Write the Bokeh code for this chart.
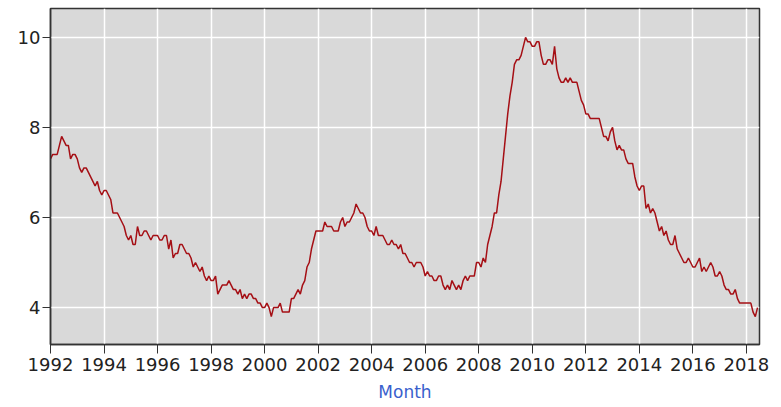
from bokeh.plotting import figure
from bokeh.models import Range1d, FixedTicker
from bokeh.embed import file_html
from bokeh.resources import INLINE

start_year = 1992
rate = [
    # 1992
    7.3, 7.4, 7.4, 7.4, 7.6, 7.8, 7.7, 7.6, 7.6, 7.3, 7.4, 7.4,
    # 1993
    7.3, 7.1, 7.0, 7.1, 7.1, 7.0, 6.9, 6.8, 6.7, 6.8, 6.6, 6.5,
    # 1994
    6.6, 6.6, 6.5, 6.4, 6.1, 6.1, 6.1, 6.0, 5.9, 5.8, 5.6, 5.5,
    # 1995
    5.6, 5.4, 5.4, 5.8, 5.6, 5.6, 5.7, 5.7, 5.6, 5.5, 5.6, 5.6,
    # 1996
    5.6, 5.5, 5.5, 5.6, 5.6, 5.3, 5.5, 5.1, 5.2, 5.2, 5.4, 5.4,
    # 1997
    5.3, 5.2, 5.2, 5.1, 4.9, 5.0, 4.9, 4.8, 4.9, 4.7, 4.6, 4.7,
    # 1998
    4.6, 4.6, 4.7, 4.3, 4.4, 4.5, 4.5, 4.5, 4.6, 4.5, 4.4, 4.4,
    # 1999
    4.3, 4.4, 4.2, 4.3, 4.2, 4.3, 4.3, 4.2, 4.2, 4.1, 4.1, 4.0,
    # 2000
    4.0, 4.1, 4.0, 3.8, 4.0, 4.0, 4.0, 4.1, 3.9, 3.9, 3.9, 3.9,
    # 2001
    4.2, 4.2, 4.3, 4.4, 4.3, 4.5, 4.6, 4.9, 5.0, 5.3, 5.5, 5.7,
    # 2002
    5.7, 5.7, 5.7, 5.9, 5.8, 5.8, 5.8, 5.7, 5.7, 5.7, 5.9, 6.0,
    # 2003
    5.8, 5.9, 5.9, 6.0, 6.1, 6.3, 6.2, 6.1, 6.1, 6.0, 5.8, 5.7,
    # 2004
    5.7, 5.6, 5.8, 5.6, 5.6, 5.6, 5.5, 5.4, 5.4, 5.5, 5.4, 5.4,
    # 2005
    5.3, 5.4, 5.2, 5.2, 5.1, 5.0, 5.0, 4.9, 5.0, 5.0, 5.0, 4.9,
    # 2006
    4.7, 4.8, 4.7, 4.7, 4.6, 4.6, 4.7, 4.7, 4.5, 4.4, 4.5, 4.4,
    # 2007
    4.6, 4.5, 4.4, 4.5, 4.4, 4.6, 4.7, 4.6, 4.7, 4.7, 4.7, 5.0,
    # 2008
    5.0, 4.9, 5.1, 5.0, 5.4, 5.6, 5.8, 6.1, 6.1, 6.5, 6.8, 7.3,
    # 2009
    7.8, 8.3, 8.7, 9.0, 9.4, 9.5, 9.5, 9.6, 9.8, 10.0, 9.9, 9.9,
    # 2010
    9.8, 9.8, 9.9, 9.9, 9.6, 9.4, 9.4, 9.5, 9.5, 9.4, 9.8, 9.3,
    # 2011
    9.1, 9.0, 9.0, 9.1, 9.0, 9.1, 9.0, 9.0, 9.0, 8.8, 8.6, 8.5,
    # 2012
    8.3, 8.3, 8.2, 8.2, 8.2, 8.2, 8.2, 8.0, 7.8, 7.8, 7.7, 7.9,
    # 2013
    8.0, 7.7, 7.5, 7.6, 7.5, 7.5, 7.3, 7.2, 7.2, 7.2, 6.9, 6.7,
    # 2014
    6.6, 6.7, 6.7, 6.2, 6.3, 6.1, 6.2, 6.1, 5.9, 5.7, 5.8, 5.6,
    # 2015
    5.7, 5.5, 5.4, 5.4, 5.6, 5.3, 5.2, 5.1, 5.0, 5.0, 5.1, 5.0,
    # 2016
    4.9, 4.9, 5.0, 5.1, 4.8, 4.9, 4.8, 4.9, 5.0, 4.9, 4.7, 4.7,
    # 2017
    4.8, 4.7, 4.5, 4.4, 4.4, 4.3, 4.3, 4.4, 4.2, 4.1, 4.1, 4.1,
    # 2018
    4.1, 4.1, 4.1, 3.9, 3.8, 4.0,
]
y_ticks = [4, 6, 8, 10]
x_ticks = list(range(1992, 2019, 2))
x_label = "Month"

months = [start_year + i / 12.0 for i in range(len(rate))]

p = figure(width=770, height=407, output_backend="svg", toolbar_location=None,
           x_range=Range1d(1992, 2018.49), y_range=Range1d(3.18, 10.64),
           min_border_left=50, min_border_right=11, min_border_top=8,
           min_border_bottom=63)

p.border_fill_color = "white"
p.outline_line_color = "#333333"
p.outline_line_width = 1.5
p.background_fill_color = "#d9d9d9"

p.line(months, rate, line_color="#a50f15", line_width=1.5)

p.xaxis.ticker = FixedTicker(ticks=x_ticks)
p.yaxis.ticker = FixedTicker(ticks=y_ticks)
p.xgrid.ticker = FixedTicker(ticks=x_ticks)
p.ygrid.ticker = FixedTicker(ticks=y_ticks)
p.grid.grid_line_color = "white"
p.grid.grid_line_width = 1.5
p.grid.grid_line_alpha = 1.0

for ax in (p.xaxis, p.yaxis):
    ax.axis_line_color = "#333333"
    ax.axis_line_width = 1.5
    ax.major_tick_line_color = "#333333"
    ax.minor_tick_line_color = None
    ax.major_tick_in = 0
    ax.major_label_text_font = "DejaVu Sans"
    ax.major_label_text_font_size = "18px"
    ax.major_label_text_color = "#222222"

p.xaxis.major_tick_out = 9
p.yaxis.major_tick_out = 8
p.xaxis.major_label_standoff = 4
p.yaxis.major_label_standoff = 2

p.xaxis.axis_label = x_label
p.xaxis.axis_label_text_font = "DejaVu Sans"
p.xaxis.axis_label_text_font_style = "normal"
p.xaxis.axis_label_text_font_size = "17px"
p.xaxis.axis_label_text_color = "#3a5fcd"
p.xaxis.axis_label_standoff = 8

open("out.html", "w").write(file_html(p, INLINE))
